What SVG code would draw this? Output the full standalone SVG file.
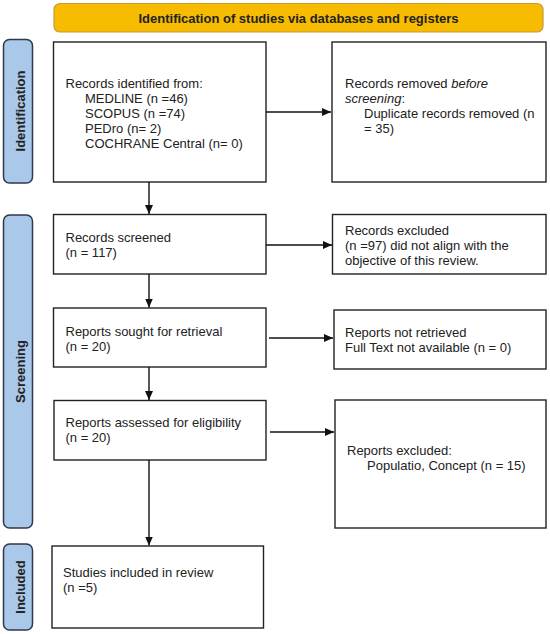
<svg xmlns="http://www.w3.org/2000/svg" width="550" height="634" viewBox="0 0 550 634">
<defs>
<marker id="ah" markerUnits="userSpaceOnUse" markerWidth="9" markerHeight="8" viewBox="0 0 9 8" refX="9" refY="4" orient="auto">
<path d="M0,0 L9,4 L0,8 z" fill="#111"/>
</marker>
</defs>
<style>
.box{fill:#fff;stroke:#222;stroke-width:1.4}
.side{fill:#a9c8ea;stroke:#2e3a4a;stroke-width:1.5}
.t{font-family:"Liberation Sans",Arial,sans-serif;font-size:13px;fill:#222}
.st{font-family:"Liberation Sans",Arial,sans-serif;font-size:13px;font-weight:bold;fill:#222}
.c{stroke:#111;stroke-width:1.4;fill:none;marker-end:url(#ah)}
</style>
<rect width="550" height="634" fill="#fff"/>
<g id="banner">
<rect x="54" y="3.5" width="489" height="28.5" rx="6" fill="#f7bb00" stroke="#c99a2e" stroke-width="1.2"/>
<text class="st" x="298.5" y="23" text-anchor="middle">Identification of studies via databases and registers</text>
</g>
<g id="side-identification">
<rect class="side" x="3.5" y="39.5" width="29" height="143.5" rx="6"/>
<text class="st" transform="translate(24.5,111) rotate(-90)" text-anchor="middle">Identification</text>
</g>
<g id="side-screening">
<rect class="side" x="3.5" y="215" width="29" height="313" rx="6"/>
<text class="st" transform="translate(24.5,371.5) rotate(-90)" text-anchor="middle">Screening</text>
</g>
<g id="side-included">
<rect class="side" x="3.5" y="544" width="29" height="86" rx="6"/>
<text class="st" transform="translate(24.5,587) rotate(-90)" text-anchor="middle">Included</text>
</g>
<g id="records-identified">
<rect class="box" x="53.5" y="42" width="212.5" height="140"/>
<text class="t" x="65.5" y="88">Records identified from:</text>
<text class="t" x="85" y="103">MEDLINE (n =46)</text>
<text class="t" x="85" y="118">SCOPUS (n =74)</text>
<text class="t" x="85" y="133">PEDro (n= 2)</text>
<text class="t" x="85" y="148">COCHRANE Central (n= 0)</text>
</g>
<g id="records-removed">
<rect class="box" x="332" y="42" width="214" height="140"/>
<text class="t" x="345" y="88">Records removed <tspan font-style="italic">before</tspan></text>
<text class="t" x="345" y="103"><tspan font-style="italic">screening</tspan>:</text>
<text class="t" x="364" y="118">Duplicate records removed (n</text>
<text class="t" x="364" y="133">= 35)</text>
</g>
<g id="records-screened">
<rect class="box" x="53.5" y="214.5" width="212.5" height="59.5"/>
<text class="t" x="65.5" y="242">Records screened</text>
<text class="t" x="65.5" y="257">(n = 117)</text>
</g>
<g id="records-excluded">
<rect class="box" x="332.5" y="214.5" width="213.5" height="59.5"/>
<text class="t" x="345" y="235">Records excluded</text>
<text class="t" x="345" y="250">(n =97) did not align with the</text>
<text class="t" x="345" y="265">objective of this review.</text>
</g>
<g id="reports-sought">
<rect class="box" x="53.5" y="308" width="212.5" height="59"/>
<text class="t" x="65.5" y="336">Reports sought for retrieval</text>
<text class="t" x="65.5" y="351">(n = 20)</text>
</g>
<g id="reports-not-retrieved">
<rect class="box" x="334" y="310" width="212" height="59"/>
<text class="t" x="345" y="337">Reports not retrieved</text>
<text class="t" x="345" y="352">Full Text not available (n = 0)</text>
</g>
<g id="reports-assessed">
<rect class="box" x="54" y="400.5" width="212" height="59.5"/>
<text class="t" x="65.5" y="427">Reports assessed for eligibility</text>
<text class="t" x="65.5" y="442">(n = 20)</text>
</g>
<g id="reports-excluded">
<rect class="box" x="335" y="400" width="211" height="128"/>
<text class="t" x="347" y="455">Reports excluded:</text>
<text class="t" x="367" y="470">Populatio, Concept (n = 15)</text>
</g>
<g id="studies-included">
<rect class="box" x="52" y="546" width="211.5" height="82"/>
<text class="t" x="63" y="577">Studies included in review</text>
<text class="t" x="63" y="592">(n =5)</text>
</g>
<g id="connectors">
<line class="c" x1="266" y1="112" x2="331" y2="112"/>
<line class="c" x1="149" y1="182" x2="149" y2="214"/>
<line class="c" x1="266" y1="245" x2="332" y2="245"/>
<line class="c" x1="149" y1="274" x2="149" y2="307.5"/>
<line class="c" x1="269" y1="338" x2="333" y2="338"/>
<line class="c" x1="149" y1="367" x2="149" y2="400"/>
<line class="c" x1="270" y1="432" x2="334" y2="432"/>
<line class="c" x1="149" y1="460" x2="149" y2="545.5"/>
</g>
</svg>
